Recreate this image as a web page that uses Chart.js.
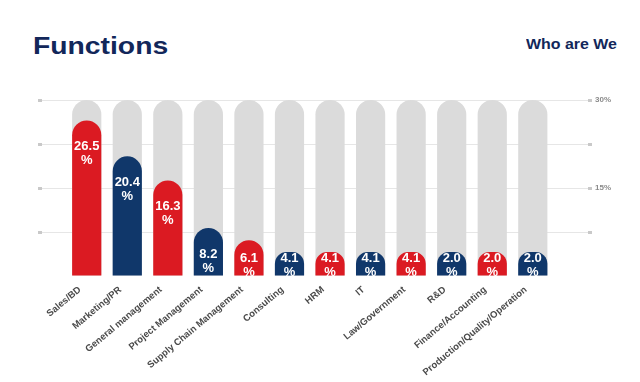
<!DOCTYPE html>
<html>
<head>
<meta charset="utf-8">
<script src="https://cdn.jsdelivr.net/npm/chart.js@4.4.1/dist/chart.umd.min.js"></script>
<style>
  html, body { margin: 0; padding: 0; background: #ffffff; }
  #wrap { position: relative; width: 640px; height: 382px; overflow: hidden; }
  #c { position: absolute; left: 0; top: 0; }
  .h { position: absolute; font-family: "Liberation Sans", Arial, sans-serif; font-weight: bold; color: #12275a; white-space: nowrap; transform-origin: left top; }
  #title { left: 33px; top: 33px; font-size: 23px; transform: scaleX(1.23); }
  #sub { left: 526px; top: 36px; font-size: 14.5px; transform: scaleX(1.1); }
</style>
</head>
<body>
<div id="wrap">
  <div class="h" id="title">Functions</div>
  <div class="h" id="sub">Who are We</div>
  <canvas id="c" width="640" height="382"></canvas>
</div>
<script>
const categories = ["Sales/BD", "Marketing/PR", "General management", "Project Management",
  "Supply Chain Management", "Consulting", "HRM", "IT", "Law/Government", "R&D",
  "Finance/Accounting", "Production/Quality/Operation"];
const shares = [26.5, 20.4, 16.3, 8.2, 6.1, 4.1, 4.1, 4.1, 4.1, 2.0, 2.0, 2.0];
const backgroundTrack = [30, 30, 30, 30, 30, 30, 30, 30, 30, 30, 30, 30];
const yTickLabels = { 15: "15%", 30: "30%" };

const RED = "#db1a22", NAVY = "#10376a", GREY = "#dbdbdb";
const barColors = categories.map((_, i) => i % 2 === 0 ? RED : NAVY);

const valueLabels = {
  id: "valueLabels",
  afterDatasetsDraw(chart) {
    const meta = chart.getDatasetMeta(1);
    const ctx = chart.ctx;
    ctx.save();
    ctx.fillStyle = "#ffffff";
    ctx.textAlign = "center";
    ctx.textBaseline = "middle";
    ctx.font = "bold 13px 'Liberation Sans', Arial, sans-serif";
    meta.data.forEach((el, i) => {
      const p = el.getProps(["x", "y", "base"], true);
      const y1 = Math.min(p.y + 26, p.base - 17);
      ctx.fillText(shares[i].toFixed(1), p.x, y1);
      ctx.fillText("%", p.x, y1 + 14);
    });
    ctx.restore();
  }
};

const gridCol = (c) => c.tick && c.tick.value === 0 ? "rgba(0,0,0,0)" : "#e6e6e6";
const dotCol = (c) => c.tick && c.tick.value === 0 ? "rgba(0,0,0,0)" : "#c9c9c9";

new Chart(document.getElementById("c"), {
  type: "bar",
  data: {
    datasets: [
      {
        data: backgroundTrack.map((v, i) => ({ x: i, y: v })),
        backgroundColor: GREY,
        borderRadius: { topLeft: 15, topRight: 15, bottomLeft: 0, bottomRight: 0 },
        borderSkipped: "bottom",
        grouped: false,
        order: 2
      },
      {
        data: shares.map((v, i) => ({ x: i, y: v })),
        backgroundColor: barColors,
        borderRadius: { topLeft: 15, topRight: 15, bottomLeft: 0, bottomRight: 0 },
        borderSkipped: "bottom",
        minBarLength: 24,
        grouped: false,
        order: 1
      }
    ]
  },
  options: {
    responsive: false,
    animation: false,
    events: [],
    layout: { padding: { top: 100, left: 38, right: 26, bottom: 4 } },
    plugins: { legend: { display: false }, tooltip: { enabled: false } },
    scales: {
      x: {
        type: "linear",
        min: -0.542,
        max: 11.8,
        grid: { display: false },
        border: { display: false },
        afterBuildTicks: (s) => { s.ticks = categories.map((_, i) => ({ value: i })); },
        ticks: {
          autoSkip: false,
          minRotation: 40,
          maxRotation: 40,
          padding: 0,
          labelOffset: -7,
          color: "#4a4a4a",
          font: { family: "'Liberation Sans', Arial, sans-serif", size: 9.5, weight: "bold" },
          callback: (v) => categories[v]
        }
      },
      y: {
        position: "right",
        min: 0,
        max: 30,
        border: { display: false },
        grid: { color: gridCol, tickColor: dotCol, tickLength: 4, tickWidth: 3 },
        afterBuildTicks: (s) => { s.ticks = [0, 7.5, 15, 22.5, 30].map(v => ({ value: v })); },
        ticks: {
          padding: 3,
          color: "#8a8a8a",
          font: { family: "'Liberation Sans', Arial, sans-serif", size: 8, weight: "bold" },
          callback: (v) => yTickLabels[v] || ""
        }
      },
      yL: {
        position: "left",
        min: 0,
        max: 30,
        border: { display: false },
        grid: { drawOnChartArea: false, tickColor: dotCol, tickLength: 4, tickWidth: 3 },
        afterBuildTicks: (s) => { s.ticks = [0, 7.5, 15, 22.5, 30].map(v => ({ value: v })); },
        ticks: { display: false }
      }
    }
  },
  plugins: [valueLabels]
});
</script>
</body>
</html>
